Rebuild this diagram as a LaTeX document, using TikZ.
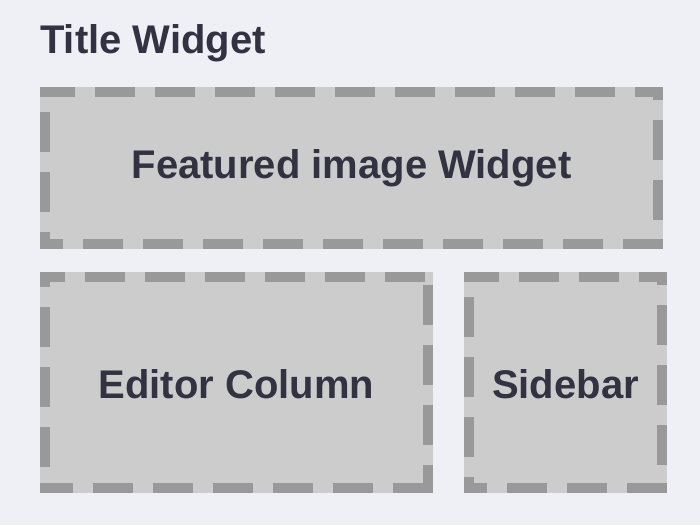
\documentclass[tikz,border=0pt]{standalone}
\usepackage{fontspec}
\setmainfont{Liberation Sans}
\definecolor{pagebg}{RGB}{239,240,245}
\definecolor{panelfill}{RGB}{204,204,204}
\definecolor{rimgray}{RGB}{153,153,153}
\definecolor{ink}{RGB}{50,50,66}
% dashed inner border of a panel, one side at a time:
% #1,#2 = top-left, #3,#4 = bottom-right, #5..#8 = dash phases (top, right, bottom, left)
\newcommand\panelrim[8]{%
  \draw[rim, dash phase=#5pt] (#1,#2+5) -- (#3,#2+5);
  \draw[rim, dash phase=#6pt] (#3-5,#2) -- (#3-5,#4);
  \draw[rim, dash phase=#7pt] (#3,#4-5) -- (#1,#4-5);
  \draw[rim, dash phase=#8pt] (#1+5,#4) -- (#1+5,#2);
}
\begin{document}
\begin{tikzpicture}[x=1pt,y=-1pt,
  panel/.style={fill=panelfill, draw=none, inner sep=0pt, outer sep=0pt},
  rim/.style={draw=rimgray, line width=10pt, dash pattern=on 40pt off 20pt, line cap=butt},
  boxtext/.style={font=\bfseries\fontsize{40}{48}\selectfont, text=ink, inner sep=0pt, anchor=base},
]
\fill[pagebg] (0,0) rectangle (700,525);
\useasboundingbox (0,0) rectangle (700,525);

% heading
\node[boxtext, anchor=base west] (title) at (40,53) {Title Widget};

% panels
\node[panel, minimum width=623pt, minimum height=162pt] (featured) at (351.5,168) {};
\node[panel, minimum width=393pt, minimum height=221pt] (editor) at (236.5,382.5) {};
\node[panel, minimum width=203pt, minimum height=221pt] (sidebar) at (565.5,382.5) {};

% dashed borders
\panelrim{40}{87}{663}{249}{5}{27}{0}{23}
\panelrim{40}{272}{433}{493}{15}{47}{0}{34}
\panelrim{464}{272}{667}{493}{5}{27}{0}{24}

% panel captions
\node[boxtext] (featuredtext) at (featured.center |- 0,178) {Featured image Widget};
\node[boxtext] (editortext) at (editor.center |- 0,398) {Editor Column};
\node[boxtext] (sidebartext) at (sidebar.center |- 0,398) {Sidebar};
\end{tikzpicture}
\end{document}
